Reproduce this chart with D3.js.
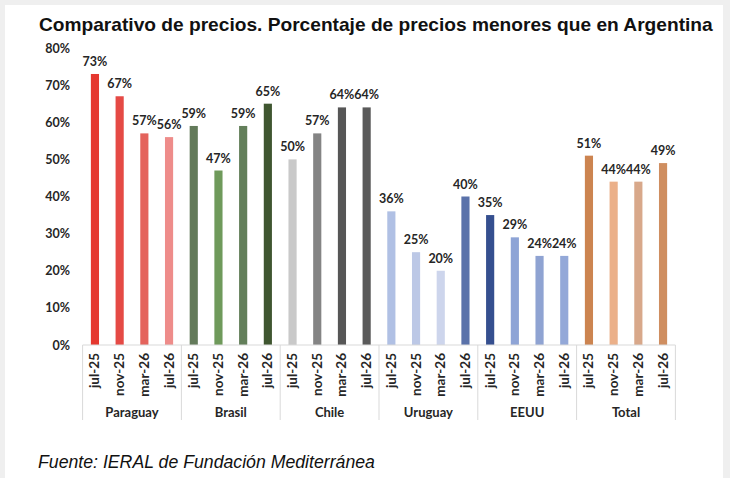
<!DOCTYPE html>
<html>
<head>
<meta charset="utf-8">
<script src="https://cdn.jsdelivr.net/npm/d3@7"></script>
<style>
  html, body { margin: 0; padding: 0; background: #efefef; }
  svg { display: block; }
</style>
</head>
<body>
<div id="chart"></div>
<script>
// data
var countries = ["Paraguay", "Brasil", "Chile", "Uruguay", "EEUU", "Total"];
var periods = ["jul-25", "nov-25", "mar-26", "jul-26"];
var paraguay = [73, 67, 57, 56];
var brasil = [59, 47, 59, 65];
var chile = [50, 57, 64, 64];
var uruguay = [36, 25, 20, 40];
var eeuu = [35, 29, 24, 24];
var total = [51, 44, 44, 49];
var yTicks = [0, 10, 20, 30, 40, 50, 60, 70, 80];

var seriesValues = [paraguay, brasil, chile, uruguay, eeuu, total];
var barColors = [
    ["#e5372f", "#e54a45", "#e4635c", "#ee8c8a"],
    ["#637a5a", "#6f9a5b", "#637f5a", "#3f5630"],
    ["#c9c9c9", "#848484", "#565656", "#5a5a5a"],
    ["#b0c0e4", "#bcc8e6", "#cdd5ec", "#5a72aa"],
    ["#354f8f", "#8ea4d6", "#8fa3d2", "#93a8d8"],
    ["#cc8450", "#ebb089", "#d8a88a", "#cf8e60"]
];

var chart = {
    width: 730,
    height: 478,
    left: 82.6,
    right: 675.4,
    top: 48,
    bottom: 345
};

var font = "Lato, 'Open Sans', sans-serif";
var textColor = "#262626";

// flat list of bars
var bars = [];
countries.forEach(function (c, ci) {
    periods.forEach(function (p, pi) {
        bars.push({ key: c + "|" + p, country: c, period: p, value: seriesValues[ci][pi], color: barColors[ci][pi] });
    });
});

var svg = d3.select("#chart")
    .append("svg")
    .attr("width", chart.width)
    .attr("height", chart.height);

// white panel
svg.append("rect")
    .attr("x", 5)
    .attr("y", 5)
    .attr("width", 718)
    .attr("height", chart.height - 5)
    .attr("fill", "#ffffff");

var x = d3.scaleBand()
    .domain(bars.map(function (d) { return d.key; }))
    .range([chart.left, chart.right])
    .paddingInner(0.67)
    .paddingOuter(0.335);

var y = d3.scaleLinear()
    .domain([0, 80])
    .range([chart.bottom, chart.top]);

// y axis (labels only)
var yAxis = d3.axisLeft(y)
    .tickValues(yTicks)
    .tickSize(0)
    .tickPadding(0)
    .tickFormat(function (d) { return d + "%"; });

var gy = svg.append("g")
    .attr("transform", "translate(70,0)")
    .call(yAxis);
gy.select(".domain").remove();
gy.selectAll("text")
    .attr("fill", textColor)
    .style("font-family", font)
    .style("font-weight", "bold")
    .style("font-size", "12.5px");

// bars
svg.append("g").selectAll("rect")
    .data(bars)
    .enter()
    .append("rect")
    .attr("x", function (d) { return x(d.key); })
    .attr("y", function (d) { return y(d.value); })
    .attr("width", x.bandwidth())
    .attr("height", function (d) { return y(0) - y(d.value); })
    .attr("fill", function (d) { return d.color; });

// value labels
svg.append("g").selectAll("text")
    .data(bars)
    .enter()
    .append("text")
    .attr("x", function (d) { return x(d.key) + x.bandwidth() / 2; })
    .attr("y", function (d) { return y(d.value) - 8; })
    .attr("text-anchor", "middle")
    .attr("fill", textColor)
    .style("font-family", font)
    .style("font-weight", "bold")
    .style("font-size", "12.5px")
    .text(function (d) { return d.value + "%"; });

// category axis
var gridColor = "#d9d9d9";
svg.append("line")
    .attr("x1", chart.left).attr("x2", chart.right)
    .attr("y1", chart.bottom).attr("y2", chart.bottom)
    .attr("stroke", gridColor);

var step = x.step();
var sepX = countries.map(function (c, ci) { return chart.left + ci * 4 * step; });
sepX.push(chart.right);
svg.append("g").selectAll("line")
    .data(sepX)
    .enter()
    .append("line")
    .attr("x1", function (d) { return d; })
    .attr("x2", function (d) { return d; })
    .attr("y1", chart.bottom)
    .attr("y2", 420)
    .attr("stroke", gridColor);

// period labels, rotated
svg.append("g").selectAll("text")
    .data(bars)
    .enter()
    .append("text")
    .attr("transform", function (d) {
        return "translate(" + (x(d.key) + x.bandwidth() / 2 + 4.5) + ",353) rotate(-90)";
    })
    .attr("text-anchor", "end")
    .attr("fill", textColor)
    .style("font-family", font)
    .style("font-weight", "bold")
    .style("font-size", "13.5px")
    .text(function (d) { return d.period; });

// country labels
svg.append("g").selectAll("text")
    .data(countries)
    .enter()
    .append("text")
    .attr("x", function (d, ci) { return chart.left + (ci * 4 + 2) * step; })
    .attr("y", 417)
    .attr("text-anchor", "middle")
    .attr("fill", textColor)
    .style("font-family", font)
    .style("font-weight", "bold")
    .style("font-size", "13px")
    .text(function (d) { return d; });

// title and source, sized to the width they take in the picture
function fitText(sel, width, size) {
    sel.style("font-size", size + "px");
    var len = sel.node().getComputedTextLength();
    sel.style("font-size", (size * width / len).toFixed(2) + "px");
}

var title = svg.append("text")
    .attr("x", 39)
    .attr("y", 31)
    .attr("fill", "#111")
    .style("font-family", "'Liberation Sans', Arial, sans-serif")
    .style("font-weight", "bold")
    .text("Comparativo de precios. Porcentaje de precios menores que en Argentina");
fitText(title, 674, 17);

var source = svg.append("text")
    .attr("x", 38)
    .attr("y", 468)
    .attr("fill", "#111")
    .style("font-family", "'Liberation Sans', Arial, sans-serif")
    .style("font-style", "italic")
    .text("Fuente: IERAL de Fundación Mediterránea");
fitText(source, 337, 15);
</script>
</body>
</html>
